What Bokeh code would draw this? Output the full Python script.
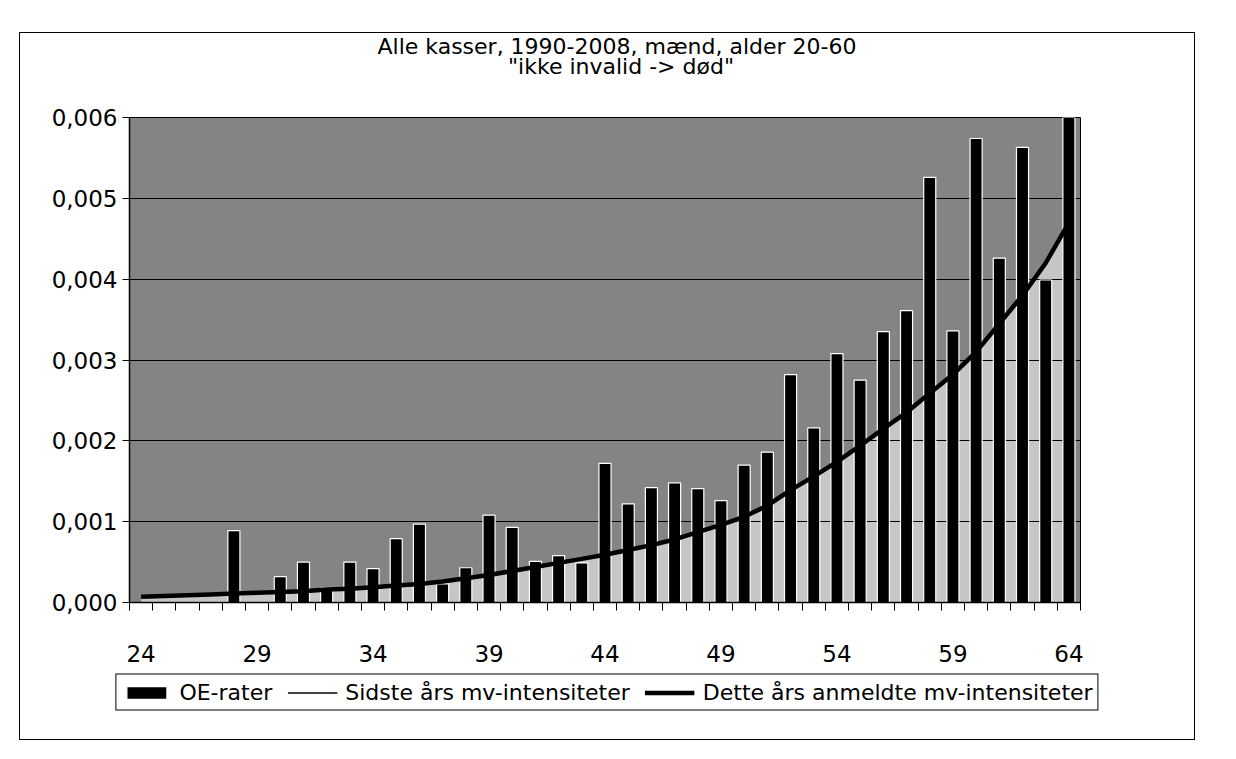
from bokeh.plotting import figure
from bokeh.layouts import column, row
from bokeh.models import (ColumnDataSource, Range1d, FixedTicker, Label, Legend, LegendItem)
from bokeh.embed import file_html
from bokeh.resources import INLINE

# ---- data -------------------------------------------------------------
ages = list(range(24, 65))
oe_rater = [0, 0, 0, 0, 0.00089, 0, 0.00032, 0.00050, 0.00018, 0.00050,
            0.00042, 0.00079, 0.00097, 0.00023, 0.00043, 0.00108, 0.00093, 0.00051,
            0.00058, 0.00049, 0.00172, 0.00122, 0.00142, 0.00148, 0.00141, 0.00126,
            0.00170, 0.00186, 0.00282, 0.00216, 0.00308, 0.00275, 0.00335, 0.00361,
            0.00526, 0.00336, 0.00574, 0.00426, 0.00563, 0.00399, 0.00610]
sidste_aars = [0.00007, 0.00008, 0.00009, 0.00010, 0.00011, 0.00012, 0.00013, 0.00014,
               0.00016, 0.00017, 0.00019, 0.00021, 0.00023, 0.00026, 0.00030, 0.00034,
               0.00039, 0.00044, 0.00049, 0.00054, 0.00059, 0.00065, 0.00071, 0.00078,
               0.00087, 0.00096, 0.00106, 0.00120, 0.00139, 0.00156, 0.00174, 0.00194,
               0.00215, 0.00235, 0.00259, 0.00282, 0.00310, 0.00345, 0.00380, 0.00420, 0.00470]
dette_aars = [0.00007, 0.00008, 0.00009, 0.00010, 0.00011, 0.00012, 0.00013, 0.00014,
              0.00016, 0.00017, 0.00019, 0.00021, 0.00023, 0.00026, 0.00030, 0.00034,
              0.00039, 0.00044, 0.00049, 0.00054, 0.00059, 0.00065, 0.00071, 0.00078,
              0.00087, 0.00096, 0.00106, 0.00120, 0.00139, 0.00156, 0.00174, 0.00194,
              0.00215, 0.00235, 0.00259, 0.00282, 0.00310, 0.00345, 0.00380, 0.00420, 0.00470]
x_tick_labels = [24, 29, 34, 39, 44, 49, 54, 59, 64]
y_ticks = [0.0, 0.001, 0.002, 0.003, 0.004, 0.005, 0.006]
y_tick_labels = ["0,000", "0,001", "0,002", "0,003", "0,004", "0,005", "0,006"]
title_line1 = "Alle kasser, 1990-2008, mænd, alder 20-60"
title_line2 = '"ikke invalid -> død"'
series_names = ["OE-rater", "Sidste års mv-intensiteter", "Dette års anmeldte mv-intensiteter"]

FONT = "DejaVu Sans"
BAR_STYLE = dict(fill_color="black", line_color="white", line_width=1.2)
THIN = dict(line_color="black", line_width=1.5)
THICK = dict(line_color="black", line_width=4.5)
W = 1174


def blank(fig):
    fig.xaxis.visible = False
    fig.yaxis.visible = False
    fig.xgrid.visible = False
    fig.ygrid.visible = False
    return fig


src = ColumnDataSource(dict(age=ages, oe=oe_rater, sidste=sidste_aars, dette=dette_aars))

# ---- title strip -------------------------------------------------------
p0 = blank(figure(width=W, height=70, x_range=Range1d(0, 1), y_range=Range1d(0, 70),
                  output_backend="svg", toolbar_location=None, title=None,
                  min_border_left=0, min_border_right=0, min_border_top=0, min_border_bottom=0,
                  outline_line_color=None, background_fill_color="white",
                  border_fill_color="white"))
for txt, yy, xo in ((title_line1, 57, 12), (title_line2, 37, 16)):
    p0.add_layout(Label(x=0.5, y=yy, x_offset=xo, text=txt, text_align="center",
                        text_baseline="alphabetic", text_font=FONT,
                        text_font_size="22px", text_color="black"))

# ---- main chart --------------------------------------------------------
p = figure(width=W, height=569,
           x_range=Range1d(ages[0] - 0.5, ages[-1] + 0.5),
           y_range=Range1d(y_ticks[0], y_ticks[-1]),
           output_backend="svg", toolbar_location=None, title=None,
           min_border_left=109, min_border_right=114,
           min_border_top=14, min_border_bottom=70,
           background_fill_color="#848484", border_fill_color="white")

area = p.varea(x="age", y1=0, y2="sidste", source=src, fill_color="#c6c6c6", level="image")
bars = p.vbar(x="age", top="oe", width=0.52, source=src, **BAR_STYLE)
l_sidste = p.line(x="age", y="sidste", source=src, **THIN)
l_dette = p.line(x="age", y="dette", source=src, **THICK)

boundaries = [a - 0.5 for a in ages] + [ages[-1] + 0.5]
p.xaxis.ticker = FixedTicker(ticks=x_tick_labels, minor_ticks=boundaries)
p.xaxis.major_tick_out = 0
p.xaxis.major_tick_in = 0
p.xaxis.minor_tick_out = 8
p.xaxis.minor_tick_in = 0
p.xaxis.minor_tick_line_color = "black"
p.xaxis.major_label_standoff = 34

p.yaxis.ticker = FixedTicker(ticks=y_ticks)
p.yaxis.major_label_overrides = dict(zip(y_ticks, y_tick_labels))
p.yaxis.major_tick_out = 7
p.yaxis.major_tick_in = 0
p.yaxis.minor_tick_line_color = None
p.yaxis.major_label_standoff = 5

for ax in (p.xaxis, p.yaxis):
    ax.axis_line_color = "black"
    ax.axis_line_width = 1.5
    ax.major_tick_line_color = "black"
    ax.major_label_text_font = FONT
    ax.major_label_text_font_size = "23px"
    ax.major_label_text_color = "black"

p.xgrid.visible = False
p.ygrid.ticker = FixedTicker(ticks=y_ticks)
p.ygrid.grid_line_color = "black"
p.ygrid.grid_line_width = 1

p.outline_line_color = "black"
p.outline_line_width = 1

# ---- legend strip ------------------------------------------------------
p2 = blank(figure(width=W, height=67, x_range=Range1d(0, 1), y_range=Range1d(0, 1),
                  output_backend="svg", toolbar_location=None, title=None,
                  min_border_left=0, min_border_right=0, min_border_top=0, min_border_bottom=27,
                  outline_line_color=None, background_fill_color="white",
                  border_fill_color="white"))
lg_bar = p2.vbar(x="age", top="oe", width=0.5, source=src, **BAR_STYLE)
lg_thin = p2.line(x="age", y="sidste", source=src, **THIN)
lg_thick = p2.line(x="age", y="dette", source=src, **THICK)

legend = Legend(items=[LegendItem(label=series_names[0], renderers=[lg_bar]),
                       LegendItem(label=series_names[1], renderers=[lg_thin]),
                       LegendItem(label=series_names[2], renderers=[lg_thick])],
                orientation="horizontal", location="center",
                border_line_color="black", border_line_width=1, border_line_alpha=1,
                label_text_font=FONT, label_text_font_size="22px", label_text_color="black",
                glyph_width=50, glyph_height=16, label_standoff=8, spacing=15,
                padding=5, margin=0, label_height=22,
                background_fill_color="white", background_fill_alpha=1)
p2.add_layout(legend, "center")

layout = column(p0, p, row(p2), spacing=0,
                styles={"margin-left": "19px", "margin-top": "32px", "border": "1px solid black"})

open("out.html", "w").write(file_html(layout, INLINE))
